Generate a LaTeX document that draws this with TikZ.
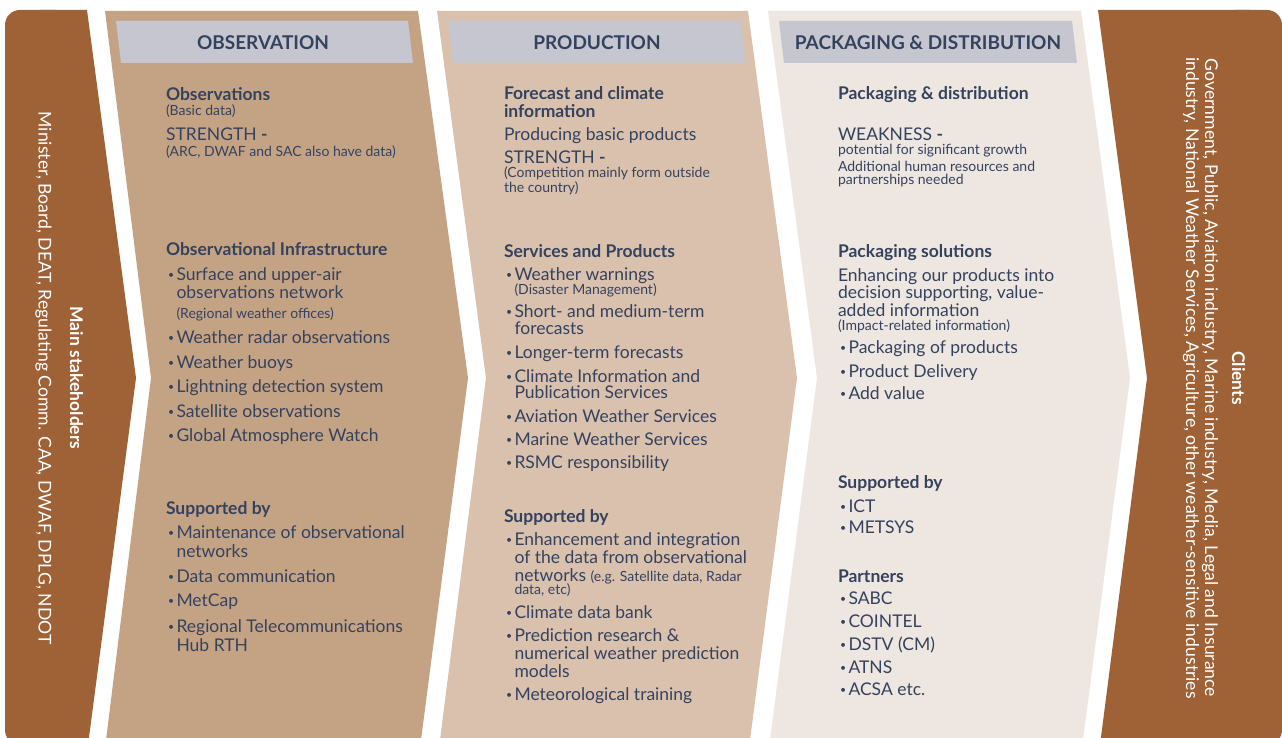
\documentclass[tikz,border=0pt]{standalone}
\usepackage{fontspec}
\setmainfont{Lato}
\definecolor{brownbar}{HTML}{9E6236}
\definecolor{obsfill}{HTML}{C4A385}
\definecolor{prodfill}{HTML}{D9C1AE}
\definecolor{packfill}{HTML}{EEE6E0}
\definecolor{hdrfill}{HTML}{C5C6D0}
\definecolor{ink}{HTML}{35425E}
\newcommand\bul{\makebox[8.5pt][l]{\fontsize{10.5}{10}\selectfont\raisebox{1.8pt}{•}}}
\newcommand\smtext{\fontsize{14}{16}\selectfont}
\tikzset{
  ln/.style={anchor=base west, inner sep=0pt, outer sep=0pt, text=ink, font=\fontsize{17.5}{20}\selectfont},
  sm/.style={ln, font=\smtext},
  bh/.style={ln, font=\fontsize{17.5}{20}\selectfont\bfseries},
  hdr/.style={anchor=base, inner sep=0pt, text=ink, font=\fontsize{19}{22}\selectfont\bfseries},
  rotbold/.style={rotate=-90, anchor=base, inner sep=0pt, text=white, font=\fontsize{17.5}{20}\selectfont\bfseries},
  rottxt/.style={rotate=-90, anchor=base, inner sep=0pt, text=white, font=\fontsize{17.6}{20}\selectfont},
}
\begin{document}
\begin{tikzpicture}[x=1pt,y=-1pt]
\useasboundingbox (0,0) rectangle (1282,738);
\fill[white] (0,0) rectangle (1282,738);
% stakeholders bar
\fill[brownbar, rounded corners=15pt] (5,10) rectangle (70,745);
\fill[brownbar] (40,10) -- (87,10) -- (136,378) -- (88,745) -- (40,745) -- cycle;
% clients bar
\fill[brownbar, rounded corners=15pt] (1220,10) rectangle (1282,745);
\fill[brownbar] (1098,10) -- (1250,10) -- (1250,745) -- (1100,745) -- (1147,378) -- cycle;
% panels
\fill[obsfill] (105,11) -- (418,11) -- (468,378) -- (421,740) -- (106,740) -- (151,378) -- cycle;
\fill[prodfill] (437,11) -- (748,11) -- (797,378) -- (750,740) -- (440,740) -- (486,378) -- cycle;
\fill[packfill] (768,11) -- (1081,11) -- (1130,378) -- (1083,740) -- (770,740) -- (817,378) -- cycle;
% headers
\fill[hdrfill] (116,21) -- (408,21) -- (413,63) -- (121,63) -- cycle;
\fill[hdrfill] (448,21) -- (741,21) -- (745,63) -- (453,63) -- cycle;
\fill[hdrfill] (779,21) -- (1072,21) -- (1077,63) -- (784,63) -- cycle;
\node[hdr] (h1) at (263,50) {OBSERVATION};
\node[hdr] (h2) at (597,50) {PRODUCTION};
\node[hdr] (h3) at (928,50) {PACKAGING \& DISTRIBUTION};
% rotated texts
\node[rotbold] (s1) at (70,378) {Main stakeholders};
\node[rottxt] (s2) at (38.5,378) {Minister, Board, DEAT, Regulating Comm. CAA, DWAF, DPLG, NDOT};
\node[rotbold] (c1) at (1232,378) {Clients};
\node[rottxt] (c2) at (1205,378) {Government, Public, Aviation industry, Marine industry, Media, Legal and Insurance};
\node[rottxt] (c3) at (1186,378) {industry, National Weather Services, Agriculture, other weather-sensitive industries};
% observation column
\node[bh] (o1) at (166,101) {Observations};
\node[sm] (o2) at (166,116) {(Basic data)};
\node[ln] (o3) at (166,141) {STRENGTH \textbf{-}};
\node[sm] (o4) at (166,157) {(ARC, DWAF and SAC also have data)};
\node[bh] (o5) at (166,255) {Observational Infrastructure};
\node[ln] (o6) at (168,280) {\bul Surface and upper-air};
\node[ln] (o7) at (176.5,298) {observations network};
\node[sm] (o8) at (176.5,318) {(Regional weather offices)};
\node[ln] (o9) at (168,343) {\bul Weather radar observations};
\node[ln] (o10) at (168,368) {\bul Weather buoys};
\node[ln] (o11) at (168,392) {\bul Lightning detection system};
\node[ln] (o12) at (168,417) {\bul Satellite observations};
\node[ln] (o13) at (168,441) {\bul Global Atmosphere Watch};
\node[bh] (o14) at (166,514) {Supported by};
\node[ln] (o15) at (168,538) {\bul Maintenance of observational};
\node[ln] (o16) at (176.5,557) {networks};
\node[ln] (o17) at (168,582) {\bul Data communication};
\node[ln] (o18) at (168,606) {\bul MetCap};
\node[ln] (o19) at (168,632) {\bul Regional Telecommunications};
\node[ln] (o20) at (176.5,651) {Hub RTH};
% production column
\node[bh] (p1) at (504,100) {Forecast and climate};
\node[bh] (p2) at (504,118) {information};
\node[ln] (p3) at (504,141) {Producing basic products};
\node[ln] (p4) at (504,164) {STRENGTH \textbf{-}};
\node[sm] (p5) at (504,178) {(Competition mainly form outside};
\node[sm] (p6) at (504,193) {the country)};
\node[bh] (p7) at (504,257) {Services and Products};
\node[ln] (p8) at (506,280) {\bul Weather warnings};
\node[sm] (p9) at (514.5,294) {(Disaster Management)};
\node[ln] (p10) at (506,317) {\bul Short- and medium-term};
\node[ln] (p11) at (514.5,334) {forecasts};
\node[ln] (p12) at (506,358) {\bul Longer-term forecasts};
\node[ln] (p13) at (506,382) {\bul Climate Information and};
\node[ln] (p14) at (514.5,398) {Publication Services};
\node[ln] (p15) at (506,422) {\bul Aviation Weather Services};
\node[ln] (p16) at (506,445) {\bul Marine Weather Services};
\node[ln] (p17) at (506,468) {\bul RSMC responsibility};
\node[bh] (p18) at (504,522) {Supported by};
\node[ln] (p19) at (506,545) {\bul Enhancement and integration};
\node[ln] (p20) at (514.5,563) {of the data from observational};
\node[ln] (p21) at (514.5,581) {networks {\smtext(e.g. Satellite data, Radar}};
\node[sm] (p22) at (514.5,594) {data, etc)};
\node[ln] (p23) at (506,618) {\bul Climate data bank};
\node[ln] (p24) at (506,641) {\bul Prediction research \&};
\node[ln] (p25) at (514.5,659) {numerical weather prediction};
\node[ln] (p26) at (514.5,677) {models};
\node[ln] (p27) at (506,700) {\bul Meteorological training};
% packaging column
\node[bh] (k1) at (838,100) {Packaging \& distribution};
\node[ln] (k2) at (838,141) {WEAKNESS \textbf{-}};
\node[sm] (k3) at (838,155) {potential for significant growth};
\node[sm] (k4) at (838,172) {Additional human resources and};
\node[sm] (k5) at (838,185) {partnerships needed};
\node[bh] (k6) at (838,257) {Packaging solutions};
\node[ln] (k7) at (838,281) {Enhancing our products into};
\node[ln] (k8) at (838,298) {decision supporting, value-};
\node[ln] (k9) at (838,316) {added information};
\node[sm] (k10) at (838,330) {(Impact-related information)};
\node[ln] (k11) at (840,353) {\bul Packaging of products};
\node[ln] (k12) at (840,377) {\bul Product Delivery};
\node[ln] (k13) at (840,399) {\bul Add value};
\node[bh] (k14) at (838,488) {Supported by};
\node[ln] (k15) at (840,512) {\bul ICT};
\node[ln] (k16) at (840,533) {\bul METSYS};
\node[bh] (k17) at (838,582) {Partners};
\node[ln] (k18) at (840,604) {\bul SABC};
\node[ln] (k19) at (840,627) {\bul COINTEL};
\node[ln] (k20) at (840,650) {\bul DSTV (CM)};
\node[ln] (k21) at (840,673) {\bul ATNS};
\node[ln] (k22) at (840,695) {\bul ACSA etc.};
\end{tikzpicture}
\end{document}
